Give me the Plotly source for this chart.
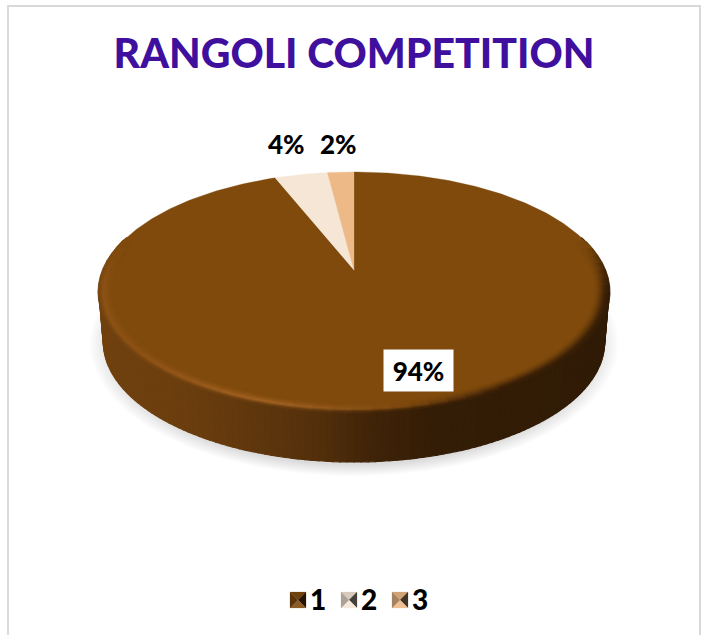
import numpy as np
import plotly.graph_objects as go

categories = ["1", "2", "3"]
values = [94, 4, 2]
slice_colors = ["#7F4A0C", "#F5E6D6", "#EDB987"]
title_text = "RANGOLI COMPETITION"

# Projection of the tilted disc onto the page
CX, AY = 354.0, 270.0
D, A, C = 250.7, 116.0, 0.183
DEPTH = 50.0
FONT = "Lato"


def project(theta, r=1.0):
    """theta clockwise from 12 o'clock; returns page x, y."""
    u, v = r * np.sin(theta), r * np.cos(theta)
    w = 1 + C * v
    return CX + D * u / w, AY - A * v / w


def lerp(c1, c2, t):
    return tuple(a + (b - a) * t for a, b in zip(c1, c2))


def rgb(c):
    return "rgb(%d,%d,%d)" % tuple(round(x) for x in c)


def poly(x, y, color, name=None, lw=1.0):
    return go.Scatter(x=x, y=y, mode="lines", fill="toself", fillcolor=color,
                      line=dict(color=color, width=lw), hoverinfo="skip",
                      showlegend=False, name=name)


fig = go.Figure()

# Soft shadow under the disc
for k in range(12):
    s = 1.0 - k * 0.0075
    t = np.linspace(0, 2 * np.pi, 181)
    fig.add_trace(poly(CX + 264 * s * np.sin(t), 344 + 132 * s * np.cos(t),
                       "rgba(130,130,130,0.028)", lw=0))

# Side wall colour depends on horizontal position
stops_x = np.array([99, 180, 250, 320, 370, 430, 609])
stops_c = np.array([(112, 65, 15), (108, 62, 14), (96, 55, 13), (82, 47, 11),
                    (64, 36, 8), (52, 29, 6), (48, 27, 6)], float)


def side_color(x):
    return tuple(np.interp(x, stops_x, stops_c[:, i]) for i in range(3))


N = 160
th = np.linspace(np.pi / 2 - 0.30, 3 * np.pi / 2 + 0.30, N + 1)
SHRINK = 0.983
for i in range(N):
    x0, y0 = project(th[i])
    x1, y1 = project(th[i + 1])
    c = side_color((x0 + x1) / 2)
    b0 = CX + (x0 - CX) * SHRINK
    b1 = CX + (x1 - CX) * SHRINK
    fig.add_trace(poly([x0, x1, b1, b0, x0],
                       [y0, y1, y1 + DEPTH, y0 + DEPTH, y0], rgb(c), lw=1.2))

# Pie slices on the top face, computed from the values, clockwise from 12
total = sum(values)
edges = np.cumsum([0] + values) / total * 2 * np.pi
for i, cat in enumerate(categories):
    t = np.linspace(edges[i], edges[i + 1], max(3, int(values[i] * 4)))
    px, py = project(t)
    fig.add_trace(poly(np.r_[CX, px, CX], np.r_[AY, py, AY], slice_colors[i], cat, lw=0.3))

# Bevel around the main slice rim: rises to a highlight, then meets the wall
face = (127, 74, 12)
radii = np.linspace(0.945, 1.004, 11)
seg = np.linspace(0.0, edges[1], 91)
for j in range(len(radii) - 1):
    r0, r1 = radii[j], radii[j + 1]
    rm = (r0 + r1) / 2
    k = np.clip((rm - 0.945) / 0.04, 0, 1) ** 1.5
    fall = np.clip((rm - 0.985) / 0.019, 0, 1)
    for i in range(len(seg) - 1):
        a, b = seg[i], seg[i + 1]
        m = (a + b) / 2
        front = np.clip((-np.cos(m) + 0.25) / 0.45, 0, 1)
        if front <= 0:
            continue
        x0, y0 = project(np.array([a, b]), r0)
        x1, y1 = project(np.array([b, a]), r1)
        xm = (x0[0] + x0[1]) / 2
        if xm < 400:
            edge = lerp((142, 84, 22), (163, 98, 34), np.clip((xm - 140) / 100, 0, 1))
            edge = lerp(edge, (125, 72, 16), np.clip((xm - 280) / 120, 0, 1))
        else:
            edge = lerp((125, 72, 16), (58, 32, 7), np.clip((xm - 400) / 110, 0, 1))
        col = lerp(face, edge, k * front)
        col = lerp(col, side_color(xm), fall * front)
        fig.add_trace(poly(np.r_[x0, x1, x0[0]], np.r_[y0, y1, y0[0]], rgb(col), lw=0.8))

# Legend built as pyramid swatches with real text
legend_x = [298, 349, 400]
legend_y = 600
half = 8
for i, cat in enumerate(categories):
    base = tuple(int(slice_colors[i][j:j + 2], 16) for j in (1, 3, 5))
    lx = legend_x[i]
    top = lerp(base, (0, 0, 0), 0.12)
    bottom = lerp(base, (255, 255, 255), 0.1)
    left = lerp(base, (0, 0, 0), 0.30)
    right = lerp(base, (0, 0, 0), 0.72)
    corners = [(-1, -1), (1, -1), (1, 1), (-1, 1)]
    for (a, b), col in zip(zip(corners, corners[1:] + corners[:1]), [top, right, bottom, left]):
        fig.add_trace(poly([lx + a[0] * half, lx + b[0] * half, lx, lx + a[0] * half],
                           [legend_y + a[1] * half, legend_y + b[1] * half, legend_y, legend_y + a[1] * half],
                           rgb(col), lw=0.2))
    fig.add_trace(go.Scatter(x=[lx + 12], y=[legend_y + 3], mode="text", text=[cat],
                             textposition="middle right", hoverinfo="skip", showlegend=False,
                             textfont=dict(family=FONT, size=28, color="#000000", weight=900)))

label_pos = [(418.5, 370.5), (286.5, 144), (338, 144)]
annotations = []
for i, v in enumerate(values):
    ann = dict(x=label_pos[i][0], y=label_pos[i][1], xref="x", yref="y",
               text="%d%%" % v, showarrow=False,
               font=dict(family=FONT, size=26, color="#000000", weight=900))
    if i == 0:
        ann.update(bgcolor="#FFFFFF", width=69, height=41, borderpad=0, align="center", valign="middle")
    annotations.append(ann)

fig.update_layout(
    width=707, height=635, margin=dict(l=0, r=0, t=0, b=0), autosize=False,
    paper_bgcolor="#FFFFFF", plot_bgcolor="#FFFFFF", showlegend=False,
    title=dict(text=title_text, x=354 / 707, y=1 - 54 / 635,
               xanchor="center", yanchor="middle",
               font=dict(family=FONT, size=41, color="#3F0F9E", weight=900)),
    xaxis=dict(range=[0, 707], visible=False, fixedrange=True),
    yaxis=dict(range=[635, 0], visible=False, fixedrange=True),
    annotations=annotations,
    shapes=[dict(type="rect", xref="x", yref="y", x0=8, x1=700, y0=6, y1=660,
                 line=dict(color="#D9D9D9", width=2), layer="below")],
)
fig.write_html("out.html", config=dict(displayModeBar=False),
               post_script="document.body.style.margin='0';document.body.style.overflow='hidden';")
